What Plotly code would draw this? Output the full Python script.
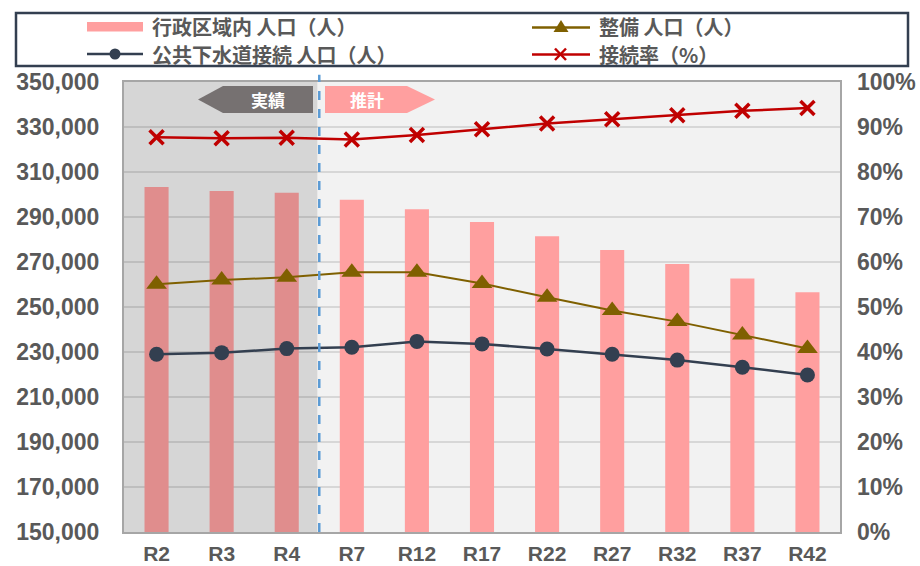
import plotly.graph_objects as go

# ---------------- data ----------------
categories = ["R2", "R3", "R4", "R7", "R12", "R17", "R22", "R27", "R32", "R37", "R42"]
admin_pop = [303300, 301600, 300800, 297700, 293400, 287800, 281400, 275300, 269100, 262700, 256500]
seibi_pop = [260100, 262000, 263200, 265400, 265400, 260400, 254300, 248400, 243500, 237600, 231600]
connect_pop = [229000, 229700, 231500, 232100, 234700, 233600, 231300, 229000, 226400, 223200, 219800]
connect_rate = [87.7, 87.5, 87.6, 87.2, 88.2, 89.5, 90.8, 91.7, 92.6, 93.6, 94.2]
n_actual = 3  # R2..R4 are actual values

series_names = ["行政区域内 人口（人）", "整備 人口（人）", "公共下水道接続 人口（人）", "接続率（%）"]
left_ticks = list(range(150000, 350001, 20000))
right_ticks = list(range(0, 101, 10))
right_labels = [f"{v}%" for v in right_ticks]

# ---------------- style ----------------
W, H = 920, 566
ML, MR, MT, MB = 124, 80, 82, 34
PW, PH = W - ML - MR, H - MT - MB

PINK = "#FF9F9F"
PINK_DARK = "#E08D8D"
OLIVE = "#7F6000"
NAVY = "#333F50"
RED = "#C00000"
GRAYTXT = "#595959"


def xp(px):
    return (px - ML) / PW


def yp(py):
    return (MT + PH - py) / PH


bar_colors = [PINK_DARK if i < n_actual else PINK for i in range(len(categories))]

fig = go.Figure()
fig.add_trace(go.Bar(x=categories, y=admin_pop, name=series_names[0],
                     marker=dict(color=bar_colors, line=dict(width=0)),
                     width=0.37, showlegend=False, yaxis="y"))
fig.add_trace(go.Scatter(x=categories, y=seibi_pop, name=series_names[1], mode="lines+markers",
                         line=dict(color=OLIVE, width=2),
                         marker=dict(symbol="triangle-up", size=18, color=OLIVE),
                         showlegend=False, yaxis="y"))
fig.add_trace(go.Scatter(x=categories, y=connect_pop, name=series_names[2], mode="lines+markers",
                         line=dict(color=NAVY, width=2.5),
                         marker=dict(symbol="circle", size=15, color=NAVY),
                         showlegend=False, yaxis="y"))
fig.add_trace(go.Scatter(x=categories, y=connect_rate, name=series_names[3], mode="lines+markers",
                         line=dict(color=RED, width=2.5),
                         marker=dict(symbol="x-thin", size=14, line=dict(color=RED, width=3.5)),
                         showlegend=False, yaxis="y2"))

shapes = []
# shaded "actual" region
shapes.append(dict(type="rect", xref="x", yref="paper", x0=-0.5, x1=2.47, y0=0, y1=1,
                   fillcolor="#D6D6D6", line=dict(width=0), layer="below"))
# dashed divider
shapes.append(dict(type="line", xref="x", yref="paper", x0=2.5, x1=2.5, y0=0, y1=1.016,
                   line=dict(color="#5B9BD5", width=2.5, dash="dash"), layer="above"))

# arrows
ay0, ay1, ayc = 86, 113, 99.5
path_l = (f"M {xp(198)},{yp(ayc)} L {xp(223)},{yp(ay0)} L {xp(313)},{yp(ay0)} "
          f"L {xp(313)},{yp(ay1)} L {xp(223)},{yp(ay1)} Z")
path_r = (f"M {xp(325)},{yp(ay0)} L {xp(407)},{yp(ay0)} L {xp(435)},{yp(ayc)} "
          f"L {xp(407)},{yp(ay1)} L {xp(325)},{yp(ay1)} Z")
shapes.append(dict(type="path", xref="paper", yref="paper", path=path_l,
                   fillcolor="#767171", line=dict(width=0)))
shapes.append(dict(type="path", xref="paper", yref="paper", path=path_r,
                   fillcolor=PINK, line=dict(width=0)))

# legend box
shapes.append(dict(type="rect", xref="paper", yref="paper", x0=xp(16), x1=xp(908), y0=yp(13), y1=yp(66),
                   fillcolor="white", line=dict(color=NAVY, width=2.5)))
r1, r2 = 27, 54
# bar symbol
shapes.append(dict(type="rect", xref="paper", yref="paper", x0=xp(87), x1=xp(143), y0=yp(22), y1=yp(31.5),
                   fillcolor=PINK, line=dict(width=0)))
# navy line + circle
shapes.append(dict(type="line", xref="paper", yref="paper", x0=xp(87), x1=xp(143), y0=yp(r2), y1=yp(r2),
                   line=dict(color=NAVY, width=2.5)))
shapes.append(dict(type="circle", xref="paper", yref="paper", x0=xp(109.5), x1=xp(120.5),
                   y0=yp(r2 + 5.5), y1=yp(r2 - 5.5), fillcolor=NAVY, line=dict(width=0)))
# olive line + triangle
shapes.append(dict(type="line", xref="paper", yref="paper", x0=xp(532), x1=xp(590), y0=yp(r1 + 0.5), y1=yp(r1 + 0.5),
                   line=dict(color=OLIVE, width=2.5)))
shapes.append(dict(type="path", xref="paper", yref="paper",
                   path=f"M {xp(553.5)},{yp(32)} L {xp(568.5)},{yp(32)} L {xp(561)},{yp(20)} Z",
                   fillcolor=OLIVE, line=dict(width=0)))
# red line + x
shapes.append(dict(type="line", xref="paper", yref="paper", x0=xp(532), x1=xp(590), y0=yp(r2 + 0.5), y1=yp(r2 + 0.5),
                   line=dict(color=RED, width=2.5)))
for (a, b, c, d) in [(555, 48.5, 566, 60), (555, 60, 566, 48.5)]:
    shapes.append(dict(type="line", xref="paper", yref="paper", x0=xp(a), x1=xp(c), y0=yp(b), y1=yp(d),
                       line=dict(color=RED, width=2.5)))

annotations = []
cjk = "Noto Sans CJK JP"
annotations.append(dict(xref="paper", yref="paper", x=xp(268), y=yp(ayc), text="実績", showarrow=False,
                        font=dict(family=cjk, size=17, color="white", weight="bold"),
                        xanchor="center", yanchor="middle"))
annotations.append(dict(xref="paper", yref="paper", x=xp(367), y=yp(ayc), text="推計", showarrow=False,
                        font=dict(family=cjk, size=17, color="white", weight="bold"),
                        xanchor="center", yanchor="middle"))
leg_pos = [(150, r1), (597, r1), (150, r2), (597, r2)]
leg_order = [0, 1, 2, 3]
for (lx, ly), k in zip(leg_pos, leg_order):
    annotations.append(dict(xref="paper", yref="paper", x=xp(lx), y=yp(ly), text=series_names[k],
                            showarrow=False, xanchor="left", yanchor="middle",
                            font=dict(family=cjk, size=20, color=GRAYTXT, weight="bold")))

tickfont = dict(family="Liberation Sans", size=23, color=GRAYTXT, weight="bold")

fig.update_layout(
    width=W, height=H,
    margin=dict(l=ML, r=MR, t=MT, b=MB, autoexpand=False),
    paper_bgcolor="white", plot_bgcolor="#F2F2F2",
    bargap=0.6,
    xaxis=dict(type="category", range=[-0.5, len(categories) - 0.5], showgrid=False,
               showline=True, linecolor="#A6A6A6", linewidth=2, mirror=True,
               tickfont=dict(family="Liberation Sans", size=21, color=GRAYTXT, weight="bold"),
               ticks="", ticklabelstandoff=2, automargin=False),
    yaxis=dict(range=[150000, 350000], tickvals=left_ticks, tickformat=",d",
               showgrid=True, gridcolor="rgba(0,0,0,0.11)", gridwidth=2,
               showline=True, linecolor="#A6A6A6", linewidth=2, mirror=True,
               zeroline=False, tickfont=tickfont, ticks="", ticklabelstandoff=18, automargin=False),
    yaxis2=dict(range=[0, 100], tickvals=right_ticks, ticktext=right_labels, overlaying="y", side="right",
                showgrid=False, zeroline=False, showline=False,
                tickfont=tickfont, ticks="", ticklabelstandoff=16, automargin=False),
    shapes=shapes, annotations=annotations,
    showlegend=False,
)

fig.write_html("out.html", config={"displayModeBar": False},
               post_script="document.body.style.margin='0';document.body.style.padding='0';")
